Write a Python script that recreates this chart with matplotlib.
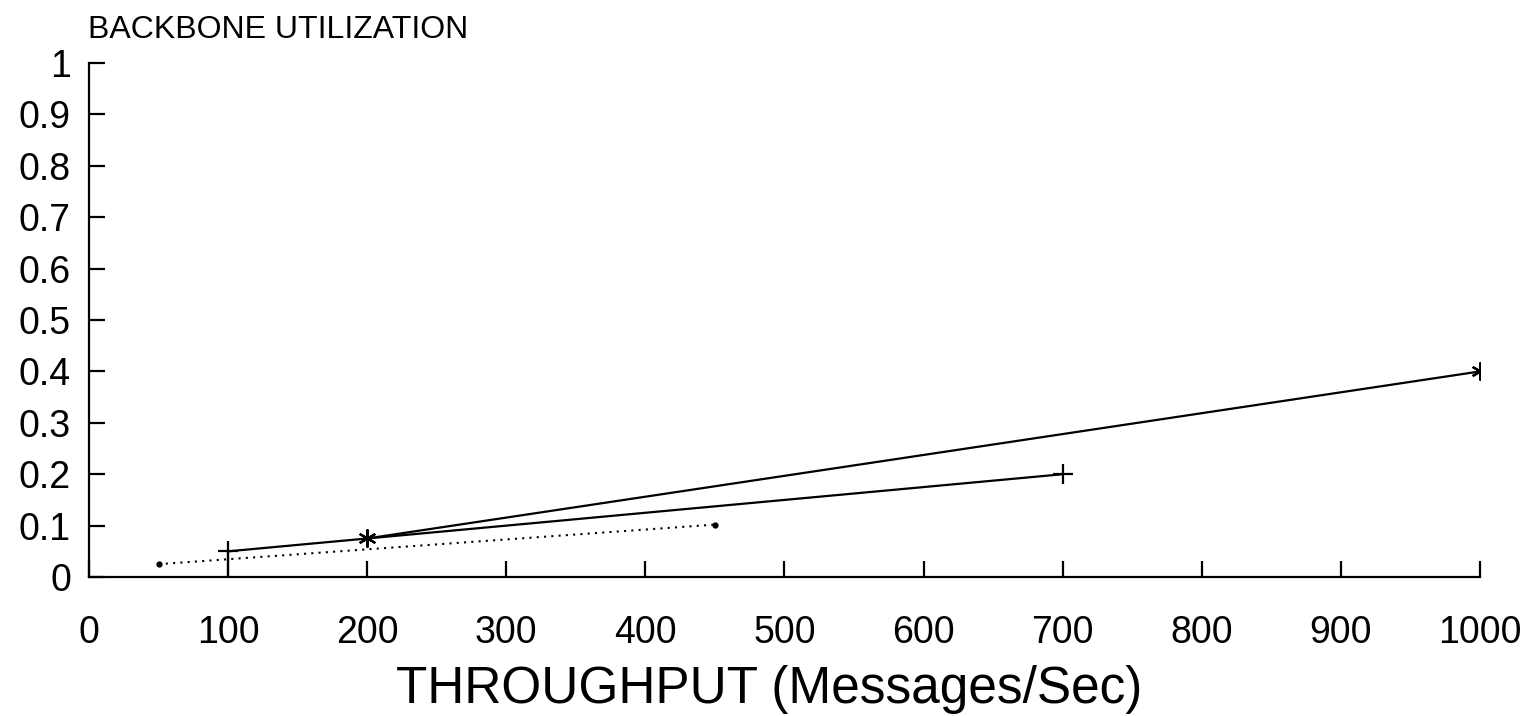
import matplotlib
matplotlib.use("Agg")
import matplotlib.pyplot as plt

# Backbone utilization vs throughput, three configurations
dot_x = [50, 450]
dot_y = [0.025, 0.102]

plus_x = [100, 700]
plus_y = [0.05, 0.20]

star_x = [200, 1000]
star_y = [0.075, 0.40]

x_ticks = [0, 100, 200, 300, 400, 500, 600, 700, 800, 900, 1000]
y_ticks = [0, 0.1, 0.2, 0.3, 0.4, 0.5, 0.6, 0.7, 0.8, 0.9, 1]
y_labels = ["0", "0.1", "0.2", "0.3", "0.4", "0.5", "0.6", "0.7", "0.8", "0.9", "1"]

plt.rcParams["font.family"] = ["Liberation Sans", "DejaVu Sans"]

fig = plt.figure(figsize=(15.34, 7.16), dpi=100)
ax = fig.add_axes([0.058, 0.1941, 0.9068, 0.7179])

ax.plot(dot_x, dot_y, color="black", linestyle=(0, (1, 2.5)), linewidth=1.5,
        marker="o", markersize=3.5)
ax.plot(plus_x, plus_y, color="black", linewidth=1.6,
        marker="+", markersize=14, markeredgewidth=1.6)
ax.plot(star_x, star_y, color="black", linewidth=1.6,
        marker=(6, 2, 0), markersize=13, markeredgewidth=1.6)

# tall stroke at the first "+" point
ax.plot([plus_x[0], plus_x[0]], [0, plus_y[0]], color="black", linewidth=1.6)

ax.set_xlim(0, 1000)
ax.set_ylim(0, 1)
ax.set_xticks(x_ticks)
ax.set_yticks(y_ticks)
ax.set_yticklabels(y_labels)

for s in ["top", "right"]:
    ax.spines[s].set_visible(False)
for s in ["left", "bottom"]:
    ax.spines[s].set_linewidth(1.6)

ax.tick_params(axis="x", direction="in", length=11.5, width=1.6, pad=27,
               labelsize=27)
ax.tick_params(axis="y", direction="in", length=11.5, width=1.6, pad=13,
               labelsize=27)

ax.set_xlabel("THROUGHPUT (Messages/Sec)", fontsize=37)
ax.xaxis.set_label_coords(0.489, -0.172)
fig.text(88 / 1534, 1 - 38 / 716, "BACKBONE UTILIZATION", fontsize=23,
         va="baseline", ha="left")

fig.savefig("out.png", dpi=100)
